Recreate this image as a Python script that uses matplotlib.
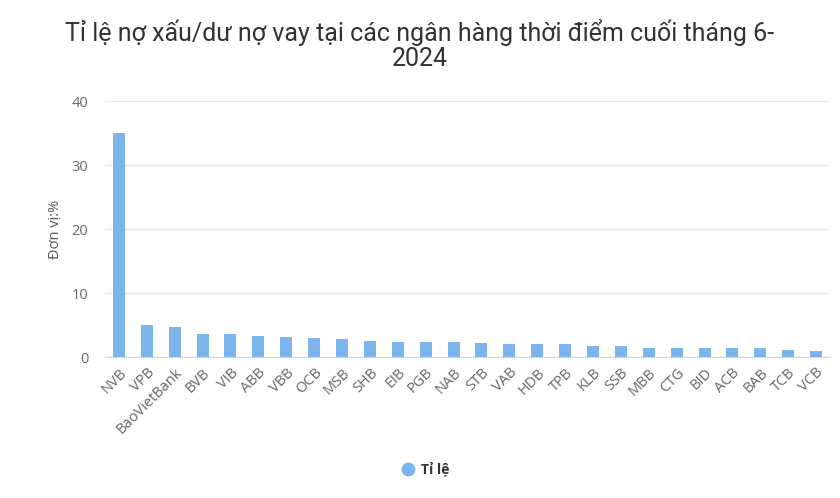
import numpy as np
import matplotlib.pyplot as plt

banks = ["NVB", "VPB", "BaoVietBank", "BVB", "VIB", "ABB", "VBB", "OCB", "MSB",
         "SHB", "EIB", "PGB", "NAB", "STB", "VAB", "HDB", "TPB", "KLB", "SSB",
         "MBB", "CTG", "BID", "ACB", "BAB", "TCB", "VCB"]
ratio = [35.0, 5.0, 4.7, 3.6, 3.6, 3.3, 3.2, 2.95, 2.75, 2.55, 2.3, 2.3, 2.3,
         2.15, 2.0, 2.0, 2.0, 1.75, 1.75, 1.4, 1.4, 1.4, 1.4, 1.4, 1.15, 0.95]
yticks = [0, 10, 20, 30, 40]

plt.rcParams['font.family'] = ['Open Sans', 'DejaVu Sans']

fig = plt.figure(figsize=(8.4, 4.98), dpi=100)
ax = fig.add_axes([105/840, 1 - 357/498, 725/840, 256/498])

x = np.arange(len(banks))
ax.bar(x, ratio, width=0.43, color="#7cb5ec", zorder=3)

ax.set_xlim(-0.5, len(banks) - 0.5)
ax.set_ylim(0, 40)
ax.set_yticks(yticks)
ax.yaxis.grid(True, color="#e6e6e6", linewidth=1, zorder=0)
ax.tick_params(axis="y", length=0, labelsize=10.5, labelcolor="#666666", pad=12)
ax.set_xticks(x)
ax.set_xticklabels(banks, rotation=45, ha="right", rotation_mode="anchor",
                   fontsize=10.5, color="#666666")
ax.tick_params(axis="x", length=0, pad=6)
for side in ["top", "right", "left"]:
    ax.spines[side].set_visible(False)
ax.spines["bottom"].set_color("#ccd6eb")
ax.set_ylabel("Đơn vị:%", fontsize=10.5, color="#555555", labelpad=6)

fig.text(0.5, 1 - 45/498, "Tỉ lệ nợ xấu/dư nợ vay tại các ngân hàng thời điểm cuối tháng 6-\n2024",
         ha="center", va="center", fontsize=18, color="#333333", fontweight="normal",
         family=["Roboto", "DejaVu Sans"], linespacing=1.1)

# legend
fig.lines.append(plt.Line2D([408/840], [1 - 469/498], marker="o", markersize=9,
                            color="#7cb5ec", transform=fig.transFigure))
fig.text(421/840, 1 - 469/498, "Tỉ lệ", ha="left", va="center", fontsize=10,
         color="#333333", fontweight="bold")

fig.savefig("out.png", dpi=100)
